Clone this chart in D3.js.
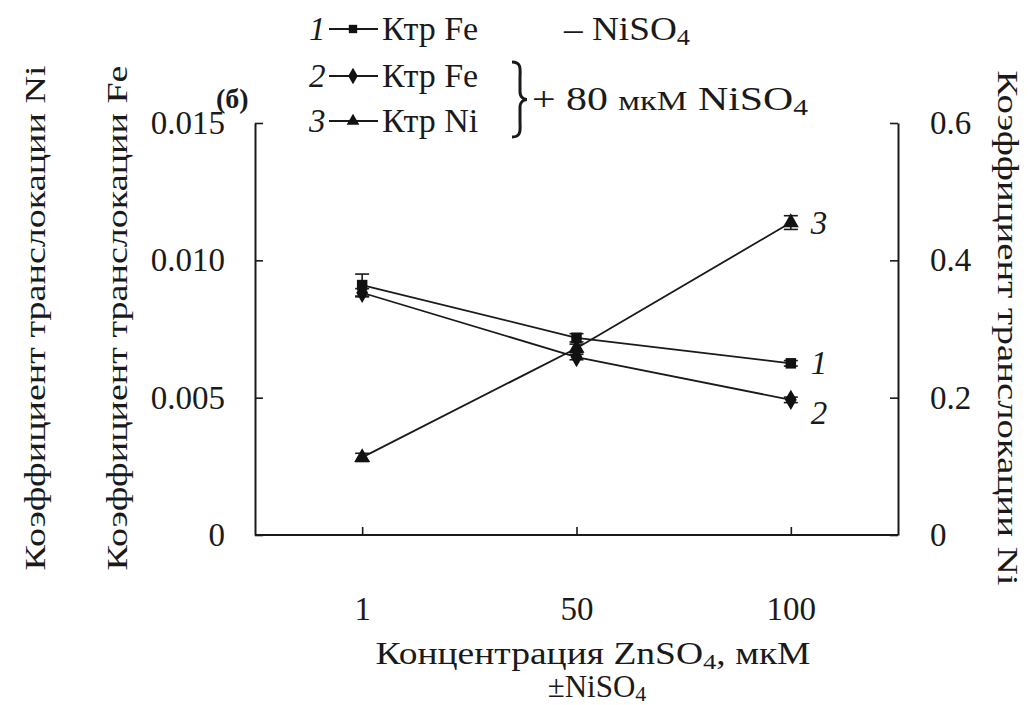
<!DOCTYPE html>
<html>
<head>
<meta charset="utf-8">
<script src="https://cdn.jsdelivr.net/npm/d3@7"></script>
<style>
  html, body { margin: 0; padding: 0; background: #fff; }
  svg text, svg tspan { font-family: "Liberation Serif" !important; }
</style>
</head>
<body>
<svg id="chart" width="1028" height="705"></svg>
<script>
// ZnSO4 concentrations, µM
const categories = ["1", "50", "100"];
// Fe translocation coefficient without NiSO4
const feNoNi = [0.0091, 0.00718, 0.00625];
const feNoNiErr = [0.0004, 0.00015, 0.0001];
// Fe translocation coefficient with 80 µM NiSO4
const feNi = [0.00882, 0.00648, 0.00492];
const feNiErr = [0.00015, 0.0001, 0.0001];
// Ni translocation coefficient with 80 µM NiSO4 (right axis)
const niNi = [0.113, 0.272, 0.455];
const niNiErr = [0.006, 0.006, 0.01];
// axis ticks
const leftTicks = [0, 0.005, 0.010, 0.015];
const rightTicks = [0, 0.2, 0.4, 0.6];

const FONT = '"Liberation Serif"';
const INK = "#1a1a1a";
const svg = d3.select("#chart");
const plotLeft = 255, plotRight = 898, plotTop = 123, plotBottom = 535;

const x = d3.scalePoint().domain(categories).range([plotLeft, plotRight]).padding(0.5);
const yL = d3.scaleLinear().domain([0, 0.015]).range([plotBottom, plotTop]);
const yR = d3.scaleLinear().domain([0, 0.6]).range([plotBottom, plotTop]);

// text helper
function txt(parent, size, opts = {}) {
  const t = parent.append("text").style("font-family", FONT, "important").style("font-size", size + "px").attr("fill", INK);
  if (opts.italic) t.style("font-style", "italic");
  if (opts.bold) t.style("font-weight", "bold");
  if (opts.anchor) t.attr("text-anchor", opts.anchor);
  return t;
}

const fs = 33;

// left axis
const gL = svg.append("g").attr("transform", `translate(${plotLeft},0)`)
  .call(d3.axisLeft(yL).tickValues(leftTicks).tickSize(-8).tickSizeOuter(0).tickPadding(30)
    .tickFormat(d => d === 0 ? "0" : d3.format(".3f")(d)));
// right axis
const gR = svg.append("g").attr("transform", `translate(${plotRight},0)`)
  .call(d3.axisRight(yR).tickValues(rightTicks).tickSize(-8).tickSizeOuter(0).tickPadding(32)
    .tickFormat(d => d === 0 ? "0" : d3.format(".1f")(d)));
// bottom axis
const gB = svg.append("g").attr("transform", `translate(0,${plotBottom})`)
  .call(d3.axisBottom(x).tickSize(-8).tickSizeOuter(0).tickPadding(62));

[gL, gR, gB].forEach(g => {
  g.attr("font-family", FONT).attr("font-size", null);
  g.selectAll("path.domain").attr("stroke", INK).attr("stroke-width", 2);
  g.selectAll(".tick line").attr("stroke", INK).attr("stroke-width", 1.6);
  g.selectAll(".tick text").style("font-family", FONT, "important").style("font-size", fs + "px").attr("fill", INK);
});
gB.selectAll("path.domain").attr("d", `M${plotLeft},0H${plotRight}`);

// series drawing
const line = (yScale, vals) => d3.line().x((d, i) => x(categories[i])).y(d => yScale(d))(vals);

function drawSeries(vals, errs, yScale, symbolType, size) {
  const g = svg.append("g");
  g.append("path").attr("d", line(yScale, vals)).attr("fill", "none")
    .attr("stroke", INK).attr("stroke-width", 1.8);
  vals.forEach((v, i) => {
    const cx = x(categories[i]);
    const y1 = yScale(v + errs[i]), y2 = yScale(v - errs[i]);
    g.append("line").attr("x1", cx).attr("x2", cx).attr("y1", y1).attr("y2", y2)
      .attr("stroke", INK).attr("stroke-width", 1.6);
    [y1, y2].forEach(yy => g.append("line").attr("x1", cx - 7).attr("x2", cx + 7)
      .attr("y1", yy).attr("y2", yy).attr("stroke", INK).attr("stroke-width", 1.6));
    g.append("path").attr("d", d3.symbol().type(symbolType).size(size)())
      .attr("transform", `translate(${cx},${yScale(v)})`).attr("fill", "#111");
  });
}
drawSeries(feNoNi, feNoNiErr, yL, d3.symbolSquare, 110);
drawSeries(feNi, feNiErr, yL, d3.symbolDiamond, 120);
drawSeries(niNi, niNiErr, yR, d3.symbolTriangle, 110);

// series number labels at the right end
const last = categories.length - 1;
[[feNoNi, yL, "1", 11], [feNi, yL, "2", 24], [niNi, yR, "3", 11]].forEach(([vals, ys, lab, dy]) => {
  txt(svg, 33, { italic: true }).attr("x", x(categories[last]) + 20).attr("y", ys(vals[last]) + dy).text(lab);
});

// axis titles
txt(svg, 30, { anchor: "middle" }).attr("transform", `translate(127,318) rotate(-90)`)
  .attr("textLength", 505).attr("lengthAdjust", "spacingAndGlyphs").text("Коэффициент транслокации Fe");
txt(svg, 30, { anchor: "middle" }).attr("transform", `translate(45,318) rotate(-90)`)
  .attr("textLength", 505).attr("lengthAdjust", "spacingAndGlyphs").text("Коэффициент транслокации Ni");
txt(svg, 29, { anchor: "middle" }).attr("transform", `translate(998,328) rotate(90)`)
  .attr("textLength", 515).attr("lengthAdjust", "spacingAndGlyphs").text("Коэффициент транслокации Ni");

const xt = txt(svg, 31, { anchor: "middle" }).attr("x", 593).attr("y", 664)
  .attr("textLength", 435).attr("lengthAdjust", "spacingAndGlyphs");
xt.append("tspan").text("Концентрация ZnSO");
xt.append("tspan").attr("dy", 5).style("font-size", "22px").text("4");
xt.append("tspan").attr("dy", -5).text(", мкМ");
const xt2 = txt(svg, 31, { anchor: "middle" }).attr("x", 597).attr("y", 697);
xt2.append("tspan").text("±NiSO");
xt2.append("tspan").attr("dy", 4).style("font-size", "22px").text("4");

// panel letter
txt(svg, 28, { bold: true }).attr("x", 216).attr("y", 108).text("(б)");

// legend
const legendRows = [
  { n: "1", label: "Ктр Fe", sym: d3.symbolSquare, size: 70, y: 29 },
  { n: "2", label: "Ктр Fe", sym: d3.symbolDiamond, size: 80, y: 76 },
  { n: "3", label: "Ктр Ni", sym: d3.symbolTriangle, size: 70, y: 121 }
];
legendRows.forEach(r => {
  txt(svg, 33, { italic: true }).attr("x", 309).attr("y", r.y + 11).text(r.n);
  svg.append("line").attr("x1", 329).attr("x2", 378).attr("y1", r.y).attr("y2", r.y)
    .attr("stroke", INK).attr("stroke-width", 1.8);
  svg.append("path").attr("d", d3.symbol().type(r.sym).size(r.size)()).attr("transform", `translate(353,${r.y})`).attr("fill", "#111");
  txt(svg, 34).attr("x", 382).attr("y", r.y + 11).text(r.label);
});
const l1 = txt(svg, 34).attr("x", 564).attr("y", 40)
  .attr("textLength", 126).attr("lengthAdjust", "spacingAndGlyphs");
l1.append("tspan").text("– NiSO");
l1.append("tspan").attr("dy", 5).style("font-size", "24px").text("4");
const l2 = txt(svg, 34).attr("x", 532).attr("y", 110)
  .attr("textLength", 276).attr("lengthAdjust", "spacingAndGlyphs");
l2.append("tspan").text("+ 80 ");
l2.append("tspan").style("font-size", "28px").text("мкМ");
l2.append("tspan").text(" NiSO");
l2.append("tspan").attr("dy", 5).style("font-size", "24px").text("4");

// curly brace grouping rows 2 and 3
const bx = 512, by0 = 62, by1 = 137, bm = (by0 + by1) / 2;
svg.append("path").attr("fill", "none").attr("stroke", INK).attr("stroke-width", 3)
  .attr("d", `M${bx},${by0} C${bx + 10},${by0} ${bx + 8},${by0 + 8} ${bx + 8},${by0 + 16}
    L${bx + 8},${bm - 8} C${bx + 8},${bm - 2} ${bx + 12},${bm} ${bx + 15},${bm}
    C${bx + 12},${bm} ${bx + 8},${bm + 2} ${bx + 8},${bm + 8}
    L${bx + 8},${by1 - 16} C${bx + 8},${by1 - 8} ${bx + 10},${by1} ${bx},${by1}`);
</script>
</body>
</html>
